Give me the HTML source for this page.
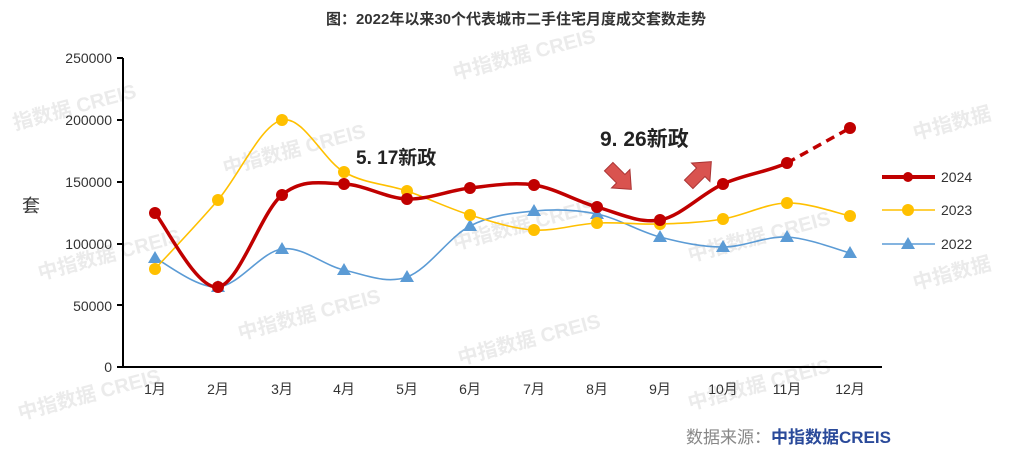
<!DOCTYPE html><html><head><meta charset="utf-8"><style>
body{margin:0;background:#fff;width:1032px;height:462px;overflow:hidden}
svg{display:block;font-family:"Liberation Sans","Noto Sans CJK SC",sans-serif}
</style></head><body>
<svg id="s" width="1032" height="462" viewBox="0 0 1032 462">
<g fill="#ebebeb" font-size="20" font-weight="bold">
<text transform="translate(455,80) rotate(-15)">中指数据 CREIS</text>
<text transform="translate(15,130) rotate(-15)">指数据 CREIS</text>
<text transform="translate(225,175) rotate(-15)">中指数据 CREIS</text>
<text transform="translate(915,140) rotate(-15)">中指数据</text>
<text transform="translate(40,280) rotate(-15)">中指数据 CREIS</text>
<text transform="translate(455,250) rotate(-15)">中指数据 CREIS</text>
<text transform="translate(690,262) rotate(-15)">中指数据 CREIS</text>
<text transform="translate(915,290) rotate(-15)">中指数据</text>
<text transform="translate(240,340) rotate(-15)">中指数据 CREIS</text>
<text transform="translate(460,365) rotate(-15)">中指数据 CREIS</text>
<text transform="translate(690,410) rotate(-15)">中指数据 CREIS</text>
<text transform="translate(20,420) rotate(-15)">中指数据 CREIS</text>
</g>
<text x="516" y="24" text-anchor="middle" font-size="15" font-weight="bold" fill="#333">图：2022年以来30个代表城市二手住宅月度成交套数走势</text>
<g font-size="14" fill="#333" text-anchor="end">
<text x="112" y="63">250000</text><text x="112" y="125">200000</text><text x="112" y="187">150000</text>
<text x="112" y="249">100000</text><text x="112" y="311">50000</text><text x="112" y="372">0</text>
</g>
<g stroke="#000" stroke-width="2"><line x1="123" y1="58" x2="123" y2="368"/><line x1="122" y1="367" x2="882" y2="367"/>
<line x1="117" y1="58" x2="123" y2="58"/><line x1="117" y1="120" x2="123" y2="120"/><line x1="117" y1="182" x2="123" y2="182"/><line x1="117" y1="244" x2="123" y2="244"/><line x1="117" y1="305" x2="123" y2="305"/><line x1="117" y1="367" x2="123" y2="367"/></g>
<text x="22" y="212" font-size="18" fill="#333">套</text>
<g id="xl" font-size="14" fill="#333" text-anchor="middle"></g>
<g id="ser"></g>
<text x="356" y="164" font-size="19" font-weight="bold" fill="#222">5. 17新政</text>
<text x="600" y="146" font-size="21" font-weight="bold" fill="#222">9. 26新政</text>
<polygon transform="translate(620,178) rotate(45) translate(-16,0)" points="0,-6 17,-6 17,-13 32,0 17,13 17,6 0,6" fill="#d9534f" stroke="#a33" stroke-width="1"/>
<polygon transform="translate(700,173) rotate(-45) translate(-16,0)" points="0,-6 17,-6 17,-13 32,0 17,13 17,6 0,6" fill="#d9534f" stroke="#a33" stroke-width="1"/>
<g font-size="14" fill="#333">
<line x1="882" y1="177" x2="935" y2="177" stroke="#c00000" stroke-width="4"/><circle cx="908" cy="177" r="5" fill="#c00000"/><text x="941" y="182">2024</text>
<line x1="882" y1="210" x2="935" y2="210" stroke="#ffc000" stroke-width="1.5"/><circle cx="908" cy="210" r="6" fill="#ffc000"/><text x="941" y="215">2023</text>
<line x1="882" y1="244" x2="935" y2="244" stroke="#5b9bd5" stroke-width="1.5"/><polygon points="908,237 915,249 901,249" fill="#5b9bd5"/><text x="941" y="249">2022</text>
</g>
<text x="686" y="443" font-size="17" fill="#888">数据来源：<tspan fill="#2a4a9a" font-weight="bold">中指数据CREIS</tspan></text>
</svg>
<script>
var xs=[155,218,282,344,407,470,534,597,660,723,787,850];
var d24=[213,287,195,184,199,188,185,207,220,184,163,128];
var d23=[269,200,120,172,191,215,230,223,224,219,203,216];
var d22=[258,287,249,270,277,226,211,214,237,247,237,253];
var ns="http://www.w3.org/2000/svg",ser=document.getElementById('ser'),xl=document.getElementById('xl');
xs.forEach(function(x,i){var t=document.createElementNS(ns,'text');t.setAttribute('x',x);t.setAttribute('y',394);t.textContent=(i+1)+'月';xl.appendChild(t);});
function path(ys,a,b){var p='M'+xs[a]+','+ys[a];for(var i=a;i<b;i++){var p0=Math.max(i-1,0),p3=Math.min(i+2,ys.length-1);
var c1x=xs[i]+(xs[i+1]-xs[p0])/6,c1y=ys[i]+(ys[i+1]-ys[p0])/6,c2x=xs[i+1]-(xs[p3]-xs[i])/6,c2y=ys[i+1]-(ys[p3]-ys[i])/6;
p+=' C'+c1x+','+c1y+' '+c2x+','+c2y+' '+xs[i+1]+','+ys[i+1];}return p;}
function add(tag,at){var e=document.createElementNS(ns,tag);for(var k in at)e.setAttribute(k,at[k]);ser.appendChild(e);return e;}
add('path',{d:path(d22,0,11),fill:'none',stroke:'#5b9bd5','stroke-width':1.6});
d22.forEach(function(y,i){add('polygon',{points:(xs[i])+','+(y-7)+' '+(xs[i]+7)+','+(y+5)+' '+(xs[i]-7)+','+(y+5),fill:'#5b9bd5'});});
add('path',{d:path(d23,0,11),fill:'none',stroke:'#ffc000','stroke-width':1.6});
d23.forEach(function(y,i){add('circle',{cx:xs[i],cy:y,r:6,fill:'#ffc000'});});
add('path',{d:path(d24,0,10),fill:'none',stroke:'#c00000','stroke-width':3.5});
add('line',{x1:xs[10],y1:d24[10],x2:xs[11],y2:d24[11],stroke:'#c00000','stroke-width':3.5,'stroke-dasharray':'9,6'});
d24.forEach(function(y,i){add('circle',{cx:xs[i],cy:y,r:6,fill:'#c00000'});});
</script>
</body></html>
